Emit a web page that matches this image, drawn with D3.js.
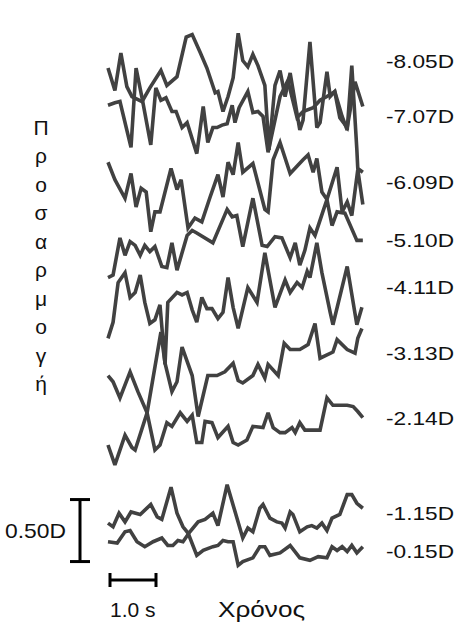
<!DOCTYPE html>
<html><head><meta charset="utf-8">
<script src="https://cdn.jsdelivr.net/npm/d3@7"></script>
<style>body{margin:0;background:#fff}svg{display:block}</style>
</head><body><svg id="c" width="463" height="630"></svg>
<script>
// time (s), accommodation display level (D)
const traceA = [[0,4.29],[0.15,4.11],[0.28,4.41],[0.41,4.14],[0.52,4.06],[0.74,4.02],[0.91,4.13],[1.15,4.27],[1.28,4.15],[1.50,4.22],[1.70,4.54],[1.83,4.56],[2.00,4.42],[2.15,4.29],[2.33,4.09],[2.39,4.10],[2.50,3.94],[2.61,4.06],[2.72,4.21],[2.83,4.57],[2.93,4.35],[3.04,4.30],[3.15,4.40],[3.26,4.31],[3.41,4.15],[3.50,3.63],[3.63,4.15],[3.74,4.27],[3.85,4.06],[3.96,4.25],[4.17,3.79],[4.24,3.87],[4.39,4.50],[4.54,3.81],[4.61,3.85],[4.76,4.26],[4.83,4.06],[4.93,4.10],[5.09,3.90],[5.20,3.79],[5.30,4.31],[5.41,3.63],[5.43,3.48],[5.54,3.45]];
const traceB = [[0,3.99],[0.15,4.01],[0.26,4.02],[0.50,3.65],[0.61,4.29],[0.74,4.05],[0.93,3.67],[1.04,4.13],[1.15,4.03],[1.26,4.05],[1.39,3.94],[1.48,3.94],[1.61,3.81],[1.72,3.85],[1.93,3.60],[2.07,3.98],[2.17,3.69],[2.28,3.81],[2.37,3.81],[2.48,3.83],[2.59,3.84],[2.70,3.99],[2.76,3.85],[2.85,3.97],[3.04,4.10],[3.15,3.93],[3.26,3.94],[3.37,3.90],[3.48,3.61],[3.63,3.87],[3.74,4.06],[3.91,4.19],[4.11,3.89],[4.24,3.94],[4.46,3.97],[4.61,4.03],[4.76,4.06],[4.93,4.10],[5.04,3.89],[5.20,3.81],[5.37,4.18],[5.54,3.98]];
const traceC = [[0,3.53],[0.15,3.39],[0.37,3.24],[0.50,3.44],[0.61,3.17],[0.72,3.32],[0.83,3.29],[0.93,2.97],[1.02,3.13],[1.13,3.13],[1.37,3.48],[1.50,3.31],[1.59,3.39],[1.74,3.00],[1.89,3.08],[2.04,3.05],[2.22,3.25],[2.39,3.43],[2.50,3.25],[2.61,3.53],[2.72,3.43],[2.83,3.69],[2.93,3.45],[3.15,3.52],[3.41,3.15],[3.48,3.13],[3.59,3.55],[3.74,3.69],[3.96,3.44],[4.24,3.55],[4.35,3.59],[4.46,3.45],[4.54,3.56],[4.65,3.29],[4.76,3.23],[4.98,3.49],[5.09,3.13],[5.20,3.21],[5.30,3.10],[5.43,3.47],[5.54,3.19]];
const traceD = [[0,2.60],[0.11,2.62],[0.26,2.92],[0.37,2.78],[0.48,2.89],[0.59,2.86],[0.70,2.78],[0.80,2.86],[0.91,2.81],[1.02,2.85],[1.17,2.69],[1.28,2.68],[1.39,2.88],[1.50,2.66],[1.72,2.94],[1.83,2.98],[1.93,2.96],[2.28,2.88],[2.59,3.15],[2.70,3.09],[2.80,3.10],[2.93,2.85],[3.15,3.24],[3.35,2.86],[3.46,2.85],[3.63,2.93],[3.78,2.92],[3.96,2.76],[4.07,2.88],[4.17,2.70],[4.28,2.82],[4.39,3.00],[4.50,2.94],[4.67,3.13],[4.76,3.23],[4.87,3.02],[4.98,3.13],[5.15,3.12],[5.41,2.90],[5.54,2.90]];
const traceE = [[0,2.11],[0.11,2.24],[0.22,2.56],[0.37,2.64],[0.48,2.44],[0.59,2.48],[0.70,2.62],[0.80,2.40],[0.91,2.23],[1.02,2.26],[1.13,2.38],[1.24,1.90],[1.30,2.40],[1.50,2.48],[1.61,2.46],[1.72,2.48],[1.83,2.34],[1.93,2.24],[2.04,2.44],[2.15,2.35],[2.26,2.35],[2.39,2.27],[2.50,2.32],[2.61,2.60],[2.72,2.36],[2.83,2.19],[3.04,2.52],[3.24,2.40],[3.41,2.80],[3.63,2.36],[3.85,2.58],[3.96,2.48],[4.11,2.56],[4.22,2.52],[4.33,2.65],[4.39,2.60],[4.54,2.88],[4.65,2.64],[4.83,2.32],[4.89,2.22],[5.20,2.69],[5.41,2.22],[5.52,2.36]];
const traceF = [[0,1.81],[0.11,1.76],[0.26,1.63],[0.48,1.84],[0.65,1.68],[0.85,1.51],[1.02,1.21],[1.13,1.25],[1.28,1.43],[1.39,1.40],[1.57,1.51],[1.72,1.44],[1.83,1.49],[1.93,1.27],[2.04,1.27],[2.11,1.44],[2.26,1.43],[2.39,1.31],[2.61,1.40],[2.72,1.27],[2.83,1.25],[3.02,1.29],[3.15,1.40],[3.37,1.39],[3.48,1.51],[3.59,1.39],[3.74,1.35],[3.85,1.35],[4.00,1.39],[4.07,1.35],[4.17,1.43],[4.28,1.37],[4.61,1.37],[4.76,1.63],[4.89,1.57],[5.20,1.57],[5.33,1.56],[5.43,1.52],[5.54,1.47]];
const traceG = [[0,1.25],[0.15,1.09],[0.37,1.33],[0.52,1.23],[0.59,1.21],[0.85,1.51],[1.15,2.16],[1.24,1.91],[1.39,1.68],[1.50,1.76],[1.61,2.04],[1.83,1.81],[1.96,1.48],[2.17,1.81],[2.37,1.81],[2.54,1.84],[2.72,1.91],[2.83,1.77],[2.93,1.75],[3.15,1.81],[3.26,1.90],[3.41,1.79],[3.48,1.90],[3.70,1.81],[3.83,2.07],[3.96,2.02],[4.17,2.02],[4.35,2.06],[4.50,2.23],[4.61,1.95],[4.89,2.00],[4.98,2.10],[5.20,2.02],[5.37,1.99],[5.43,2.11],[5.52,2.19]];
const traceH = [[0,0.62],[0.11,0.59],[0.24,0.70],[0.37,0.63],[0.50,0.71],[0.70,0.69],[0.93,0.77],[1.07,0.67],[1.17,0.65],[1.37,0.91],[1.50,0.70],[1.63,0.59],[1.74,0.54],[1.93,0.36],[2.07,0.40],[2.28,0.43],[2.39,0.44],[2.50,0.48],[2.61,0.47],[2.72,0.47],[2.83,0.28],[2.93,0.31],[3.15,0.34],[3.30,0.43],[3.41,0.43],[3.52,0.36],[3.74,0.38],[3.96,0.44],[4.17,0.34],[4.39,0.32],[4.57,0.35],[4.76,0.34],[4.87,0.43],[4.98,0.40],[5.09,0.43],[5.20,0.39],[5.30,0.44],[5.41,0.38],[5.54,0.43]];
const traceI = [[0,0.47],[0.20,0.46],[0.37,0.55],[0.48,0.56],[0.63,0.47],[0.80,0.43],[0.98,0.47],[1.17,0.50],[1.30,0.44],[1.41,0.44],[1.52,0.48],[1.63,0.47],[1.78,0.55],[1.96,0.63],[2.11,0.65],[2.28,0.70],[2.39,0.60],[2.59,0.93],[2.93,0.50],[3.04,0.58],[3.15,0.55],[3.30,0.74],[3.37,0.77],[3.52,0.66],[3.67,0.63],[3.78,0.62],[3.85,0.58],[3.96,0.71],[4.02,0.69],[4.17,0.55],[4.33,0.59],[4.43,0.60],[4.54,0.58],[4.65,0.62],[4.76,0.56],[4.87,0.66],[5.04,0.69],[5.20,0.85],[5.30,0.85],[5.41,0.78],[5.54,0.74]];

const stimulusLabels = ["-8.05D","-7.07D","-6.09D","-5.10D","-4.11D","-3.13D","-2.14D","-1.15D","-0.15D"];
const labelLevels = [4.34,3.90,3.37,2.90,2.52,1.99,1.46,0.70,0.39];
const yTitle = "Προσαρμογή";
const xTitle = "Χρόνος";
const scaleD = 0.5, scaleDBase = 0.31, scaleT = 1.0;

const traces = [traceA,traceB,traceC,traceD,traceE,traceF,traceG,traceH,traceI];

const svg = d3.select("#c");
const x = d3.scaleLinear().domain([0,5.5]).range([108,361]);
const y = d3.scaleLinear().domain([0,5]).range([600,-20]);
const line = d3.line().x(d=>x(d[0])).y(d=>y(d[1]));

svg.append("g").selectAll("path").data(traces).join("path")
  .attr("d", line).attr("fill","none").attr("stroke","#414141")
  .attr("stroke-width",3.6).attr("stroke-linejoin","miter").attr("stroke-miterlimit",3);

const font = "Liberation Sans, Arial, Helvetica, sans-serif";
svg.append("g").selectAll("text").data(stimulusLabels).join("text")
  .attr("x",386).attr("y",(d,i)=>y(labelLevels[i]))
  .attr("dominant-baseline","central")
  .attr("font-family",font).attr("font-size",19).attr("fill","#111")
  .attr("textLength",68).attr("lengthAdjust","spacingAndGlyphs")
  .text(d=>d);

// y title as stacked letters
const letters = Array.from(yTitle);
svg.append("g").selectAll("text").data(letters).join("text")
  .attr("x",41).attr("y",(d,i)=>127 + i*28.5)
  .attr("text-anchor","middle").attr("dominant-baseline","central")
  .attr("font-family",font).attr("font-size",21).attr("fill","#111")
  .text(d=>d);

// vertical scale bar (0.50 D)
const vb = svg.append("g").attr("stroke","#000").attr("stroke-width",3);
const sx = 80;
vb.append("line").attr("x1",sx).attr("x2",sx).attr("y1",y(scaleDBase)).attr("y2",y(scaleDBase+scaleD));
vb.append("line").attr("x1",sx-10).attr("x2",sx+10).attr("y1",y(scaleDBase)).attr("y2",y(scaleDBase));
vb.append("line").attr("x1",sx-10).attr("x2",sx+10).attr("y1",y(scaleDBase+scaleD)).attr("y2",y(scaleDBase+scaleD));
svg.append("text").attr("x",5).attr("y",y(scaleDBase+scaleD/2)).attr("text-anchor","start")
  .attr("dominant-baseline","central").attr("font-family",font).attr("font-size",21).attr("fill","#111")
  .attr("textLength",61).attr("lengthAdjust","spacingAndGlyphs")
  .text(scaleD.toFixed(2)+"D");

// time scale bar (1.0 s)
const tb = svg.append("g").attr("stroke","#000").attr("stroke-width",3);
const ty = 580;
tb.append("line").attr("x1",x(0)+2).attr("x2",x(scaleT)+2).attr("y1",ty).attr("y2",ty);
tb.append("line").attr("x1",x(0)+2).attr("x2",x(0)+2).attr("y1",ty-7).attr("y2",ty+7);
tb.append("line").attr("x1",x(scaleT)+2).attr("x2",x(scaleT)+2).attr("y1",ty-7).attr("y2",ty+7);
svg.append("text").attr("x",x(0)+2).attr("y",617).attr("font-family",font).attr("font-size",21).attr("fill","#111")
  .text(scaleT.toFixed(1)+" s");
svg.append("text").attr("x",218).attr("y",617).attr("font-family",font).attr("font-size",22).attr("fill","#111")
  .attr("textLength",87).attr("lengthAdjust","spacingAndGlyphs")
  .text(xTitle);
</script></body></html>
